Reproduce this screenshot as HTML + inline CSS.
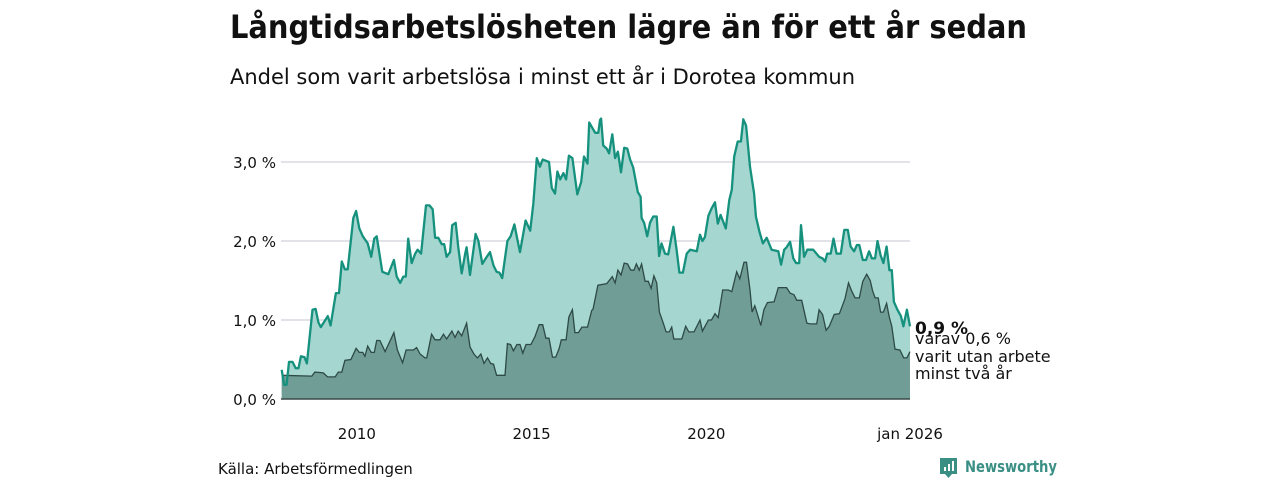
<!DOCTYPE html>
<html><head><meta charset="utf-8"><style>
html,body{margin:0;padding:0;background:#fff;}
svg{display:block;font-family:"DejaVu Sans","Liberation Sans",sans-serif;}
</style></head><body>
<svg id="chart" width="1280" height="480" viewBox="0 0 1280 480" xmlns="http://www.w3.org/2000/svg">
<text x="230" y="38" font-size="32" font-weight="bold" fill="#111" textLength="797" lengthAdjust="spacingAndGlyphs">Långtidsarbetslösheten lägre än för ett år sedan</text>
<text x="230" y="84" font-size="21" fill="#111" textLength="625" lengthAdjust="spacingAndGlyphs">Andel som varit arbetslösa i minst ett år i Dorotea kommun</text>
<g id="grid"></g>
<g id="areas"></g>
<g id="yaxis"></g>
<g id="xaxis"></g>
<g font-size="16" fill="#111">
<text x="915" y="334" font-weight="bold" font-size="17">0,9 %</text>
<text x="915" y="344">varav 0,6 %</text>
<text x="915" y="362">varit utan arbete</text>
<text x="915" y="379">minst två år</text>
</g>
<text x="218" y="474" font-size="15" fill="#111">Källa: Arbetsförmedlingen</text>
<g>
<path d="M940 458 h17 v16 h-5 l-3.5 4 l-3.5 -4 h-5 z" fill="#3a8f85"/>
<rect x="944" y="467" width="2" height="4" fill="#fff"/><rect x="948" y="464" width="2" height="7" fill="#fff"/><rect x="952" y="461" width="2" height="10" fill="#fff"/>
<text x="965" y="472" font-size="16" font-weight="bold" fill="#3a8f85" textLength="92" lengthAdjust="spacingAndGlyphs">Newsworthy</text>
</g>
</svg>
<script>
const totalYears=[2008.02,2008.09,2008.16,2008.23,2008.33,2008.42,2008.50,2008.57,2008.67,2008.74,2008.90,2008.99,2009.07,2009.14,2009.24,2009.34,2009.42,2009.57,2009.66,2009.74,2009.83,2009.91,2010.07,2010.15,2010.24,2010.34,2010.48,2010.58,2010.67,2010.74,2010.90,2011.07,2011.23,2011.31,2011.41,2011.50,2011.57,2011.64,2011.74,2011.84,2011.91,2012.01,2012.15,2012.25,2012.34,2012.41,2012.50,2012.60,2012.67,2012.74,2012.84,2012.90,2013.00,2013.07,2013.17,2013.27,2013.31,2013.41,2013.57,2013.65,2013.76,2013.89,2013.98,2014.08,2014.17,2014.25,2014.33,2014.48,2014.57,2014.68,2014.76,2014.84,2015.00,2015.13,2015.22,2015.32,2015.41,2015.49,2015.67,2015.75,2015.84,2015.91,2015.99,2016.08,2016.16,2016.24,2016.34,2016.48,2016.59,2016.67,2016.77,2016.82,2016.99,2017.08,2017.13,2017.16,2017.22,2017.32,2017.39,2017.48,2017.56,2017.64,2017.73,2017.82,2017.91,2017.99,2018.08,2018.21,2018.29,2018.32,2018.39,2018.48,2018.56,2018.65,2018.75,2018.82,2018.89,2018.99,2019.08,2019.23,2019.32,2019.40,2019.50,2019.61,2019.71,2019.90,2019.99,2020.06,2020.13,2020.23,2020.32,2020.42,2020.50,2020.58,2020.73,2020.83,2020.90,2020.97,2021.07,2021.16,2021.23,2021.31,2021.42,2021.54,2021.59,2021.69,2021.79,2021.90,2022.04,2022.23,2022.31,2022.40,2022.47,2022.57,2022.66,2022.74,2022.83,2022.88,2022.97,2023.06,2023.23,2023.40,2023.50,2023.57,2023.63,2023.73,2023.81,2023.90,2024.02,2024.12,2024.22,2024.30,2024.40,2024.48,2024.55,2024.65,2024.74,2024.83,2024.91,2025.00,2025.07,2025.16,2025.24,2025.33,2025.41,2025.48,2025.54,2025.64,2025.74,2025.81,2025.91,2026.00];
const totalValues=[0.37,0.18,0.18,0.47,0.47,0.39,0.39,0.54,0.53,0.45,1.13,1.14,0.97,0.91,0.98,1.05,0.93,1.34,1.34,1.74,1.64,1.64,2.29,2.38,2.16,2.06,1.97,1.80,2.03,2.06,1.61,1.58,1.76,1.55,1.47,1.55,1.55,2.03,1.72,1.84,1.89,1.84,2.45,2.45,2.40,2.04,2.04,1.96,1.96,1.80,1.86,2.20,2.23,1.93,1.59,1.84,1.92,1.57,2.09,2.00,1.71,1.80,1.86,1.69,1.61,1.60,1.53,2.00,2.06,2.21,2.03,1.86,2.26,2.13,2.47,3.05,2.94,3.03,3.00,2.67,2.60,2.88,2.78,2.86,2.78,3.08,3.05,2.59,2.75,3.07,2.98,3.50,3.37,3.37,3.53,3.55,3.21,3.17,3.11,3.35,3.05,3.13,2.87,3.18,3.17,3.03,2.93,2.62,2.56,2.29,2.23,2.06,2.23,2.31,2.31,1.81,1.97,1.84,1.83,2.18,1.89,1.60,1.60,1.84,1.89,1.87,2.08,2.00,2.05,2.32,2.41,2.49,2.22,2.33,2.16,2.52,2.65,3.07,3.26,3.26,3.54,3.46,2.94,2.60,2.31,2.12,1.97,2.04,1.89,1.87,1.70,1.89,1.92,1.99,1.78,1.72,1.72,2.20,1.80,1.89,1.89,1.80,1.78,1.74,1.84,1.84,2.03,1.84,1.84,2.14,2.14,1.93,1.87,1.95,1.95,1.76,1.76,1.87,1.78,1.78,2.00,1.82,1.72,1.93,1.63,1.63,1.23,1.13,1.05,0.92,1.13,0.92];
const longYears=[2008.02,2008.88,2008.97,2009.21,2009.33,2009.55,2009.64,2009.74,2009.83,2010.00,2010.15,2010.24,2010.34,2010.40,2010.48,2010.58,2010.67,2010.74,2010.83,2010.98,2011.23,2011.33,2011.48,2011.58,2011.79,2011.88,2011.98,2012.12,2012.17,2012.31,2012.41,2012.55,2012.65,2012.74,2012.89,2012.98,2013.07,2013.17,2013.31,2013.41,2013.52,2013.62,2013.72,2013.81,2013.91,2014.00,2014.08,2014.17,2014.41,2014.48,2014.57,2014.65,2014.75,2014.84,2014.92,2015.01,2015.15,2015.27,2015.39,2015.49,2015.58,2015.67,2015.77,2015.86,2015.96,2016.02,2016.16,2016.24,2016.34,2016.41,2016.51,2016.61,2016.77,2016.89,2016.93,2017.07,2017.32,2017.48,2017.56,2017.64,2017.73,2017.82,2017.92,2018.01,2018.10,2018.17,2018.25,2018.32,2018.42,2018.51,2018.59,2018.67,2018.75,2018.83,2018.94,2019.02,2019.11,2019.18,2019.24,2019.47,2019.58,2019.67,2019.82,2019.99,2020.06,2020.23,2020.32,2020.42,2020.51,2020.64,2020.80,2020.90,2021.04,2021.13,2021.25,2021.32,2021.42,2021.48,2021.56,2021.63,2021.73,2021.82,2021.92,2022.11,2022.23,2022.47,2022.57,2022.68,2022.76,2022.90,2023.05,2023.14,2023.33,2023.40,2023.50,2023.60,2023.69,2023.83,2023.98,2024.14,2024.24,2024.33,2024.43,2024.55,2024.65,2024.76,2024.86,2024.93,2025.00,2025.09,2025.16,2025.24,2025.33,2025.41,2025.48,2025.57,2025.71,2025.82,2025.91,2026.00];
const longValues=[0.30,0.29,0.34,0.33,0.28,0.28,0.34,0.34,0.49,0.50,0.64,0.59,0.59,0.54,0.67,0.59,0.59,0.74,0.74,0.60,0.84,0.62,0.46,0.62,0.62,0.65,0.57,0.52,0.52,0.82,0.75,0.75,0.82,0.76,0.86,0.78,0.86,0.80,0.96,0.66,0.57,0.52,0.57,0.45,0.52,0.45,0.44,0.30,0.30,0.70,0.69,0.61,0.69,0.69,0.58,0.69,0.69,0.79,0.94,0.94,0.77,0.77,0.53,0.53,0.64,0.75,0.75,1.04,1.13,0.84,0.84,0.91,0.91,1.12,1.14,1.44,1.46,1.55,1.47,1.63,1.57,1.72,1.71,1.63,1.63,1.71,1.63,1.71,1.49,1.49,1.40,1.56,1.47,1.10,0.96,0.85,0.85,0.91,0.76,0.76,0.92,0.85,0.85,1.00,0.86,1.00,1.00,1.08,1.03,1.38,1.38,1.36,1.61,1.52,1.73,1.73,1.38,1.10,1.18,1.08,0.93,1.13,1.22,1.23,1.41,1.41,1.34,1.32,1.25,1.25,0.96,0.95,0.95,1.13,1.07,0.87,0.92,1.07,1.08,1.27,1.47,1.37,1.28,1.28,1.49,1.58,1.50,1.37,1.28,1.28,1.10,1.10,1.21,1.03,0.92,0.63,0.62,0.52,0.52,0.60];
const yTicks=[0,1,2,3];
const yTickLabels=["0,0 %","1,0 %","2,0 %","3,0 %"];
const xTicks=[2010,2015,2020,2026];
const xTickLabels=["2010","2015","2020","jan 2026"];

const NS="http://www.w3.org/2000/svg";
const X0=281,X1=910,Y0=399,PX=79;
function xs(t){return X0+(t-2008)*(X1-X0)/18;}
function ys(v){return Y0-v*PX;}
function mk(tag,attrs,parent){const e=document.createElementNS(NS,tag);for(const k in attrs)e.setAttribute(k,attrs[k]);parent.appendChild(e);return e;}
const grid=document.getElementById('grid'),areas=document.getElementById('areas'),ya=document.getElementById('yaxis'),xa=document.getElementById('xaxis');
yTicks.forEach((v,i)=>{
 if(v>0){const l=mk('line',{x1:X0,x2:X1,y1:ys(v),y2:ys(v),stroke:'#e2e2e8','stroke-width':2},grid);
 
 }
 const t=mk('text',{x:276,y:ys(v)+6,'text-anchor':'end','font-size':15,fill:'#111'},ya);
 
 
 t.textContent=yTickLabels[i];
});
xTicks.forEach((v,i)=>{
 const t=mk('text',{x:xs(v)+(i<3?6:0),y:439,'text-anchor':'middle','font-size':15,fill:'#111'},xa);
 
 
 t.textContent=xTickLabels[i];
});
function pts(yrs,vals){return yrs.map((t,i)=>xs(t).toFixed(1)+','+ys(vals[i]).toFixed(1));}
function areaPath(yrs,vals){const p=pts(yrs,vals);return 'M'+xs(yrs[0]).toFixed(1)+','+Y0+' L'+p.join(' L')+' L'+xs(yrs[yrs.length-1]).toFixed(1)+','+Y0+' Z';}
const a1=mk('path',{d:areaPath(totalYears,totalValues),fill:'#a5d6d0'},areas);


const a2=mk('path',{d:areaPath(longYears,longValues),fill:'#709d96'},areas);


const l2=mk('polyline',{points:pts(longYears,longValues).join(' '),fill:'none',stroke:'#2e4a46','stroke-width':1.3},areas);


const l1=mk('polyline',{points:pts(totalYears,totalValues).join(' '),fill:'none',stroke:'#16917e','stroke-width':2.3,'stroke-linejoin':'round'},areas);


const base=mk('line',{x1:X0,x2:X1,y1:Y0,y2:Y0,stroke:'#3a4a48','stroke-width':1.5},areas);


</script>
</body></html>
